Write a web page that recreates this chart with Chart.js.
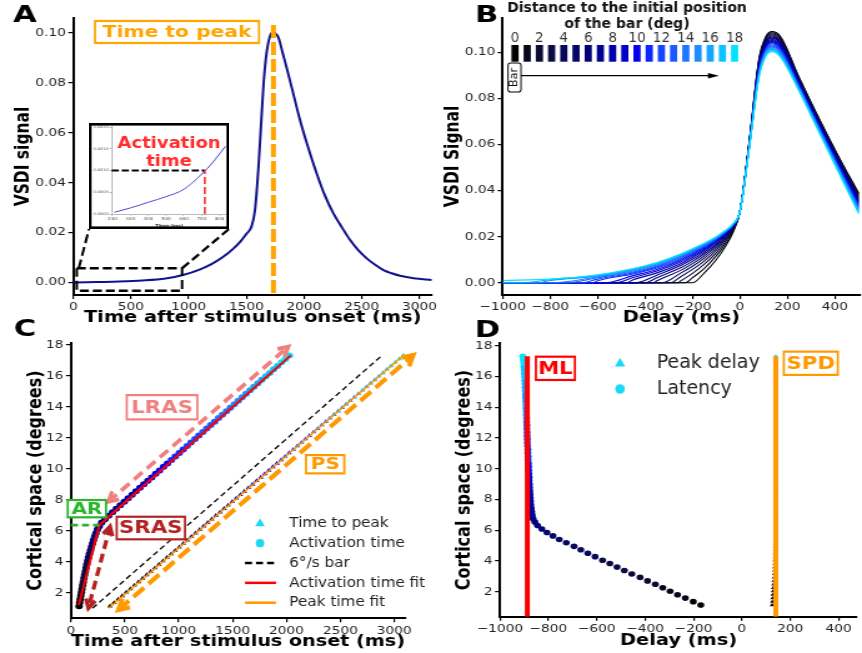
<!DOCTYPE html>
<html>
<head>
<meta charset="utf-8">
<title>VSDI propagation</title>
<script src="https://cdn.jsdelivr.net/npm/chart.js@4.4.1/dist/chart.umd.min.js"></script>
<style>
  html, body { margin: 0; padding: 0; background: #fff; }
  #fig { position: relative; width: 862px; height: 653px; overflow: hidden; }
  #fig canvas { position: absolute; }
</style>
</head>
<body>
<div id="fig">
  <canvas id="panelA" width="690" height="653" style="left:0;top:0;width:862px;height:653px"></canvas>
  <canvas id="panelB" width="690" height="653" style="left:0;top:0;width:862px;height:653px"></canvas>
  <canvas id="panelC" width="690" height="653" style="left:0;top:0;width:862px;height:653px"></canvas>
  <canvas id="panelD" width="690" height="653" style="left:0;top:0;width:862px;height:653px"></canvas>
  <canvas id="inset" width="112" height="106" style="left:89px;top:123px;width:140px;height:106px"></canvas>
</div>
<script>
// ---- A : VSDI signal of one site
const aTime = [0, 200, 400, 600, 800, 950, 1100, 1210, 1300, 1390, 1450, 1505, 1545, 1575, 1605, 1630, 1650, 1670, 1690, 1712,
  1735, 1760, 1780, 1815, 1850, 1900, 1966, 2030, 2110, 2180, 2255, 2330, 2400, 2470, 2544, 2620, 2689, 2760, 2833, 2950, 3108];
const aSignal = [0.0000, 0.0002, 0.0004, 0.0008, 0.0016, 0.0030, 0.0053, 0.0077, 0.0103, 0.0137, 0.0165, 0.0197, 0.0224, 0.0290,
  0.0460, 0.0650, 0.0800, 0.0900, 0.0960, 0.0995, 0.1004, 0.0995, 0.0980, 0.0920, 0.0860, 0.0770, 0.0650, 0.0550, 0.0437,
  0.0350, 0.0277, 0.0220, 0.0170, 0.0130, 0.0097, 0.0070, 0.0050, 0.0037, 0.0027, 0.0017, 0.0010];
const aTicksX = [0, 500, 1000, 1500, 2000, 2500, 3000];
const aTicksY = [0, 0.02, 0.04, 0.06, 0.08, 0.10];

// inset of A (zoom on the start of the response)
const insetTime = [210, 300, 400, 500, 600, 700, 760, 833];
const insetSignal = [0.00004, 0.00014, 0.00027, 0.00040, 0.00057, 0.00092, 0.00118, 0.00156];
const insetThreshold = 0.001;
const insetActTime = 717;
const insetTicksX = [200, 300, 400, 500, 600, 700, 800];
const insetTicksY = [0, 0.0005, 0.001, 0.0015, 0.002];

// ---- B : signal vs delay, one curve per distance to the bar start
const bDistance = [0, 1, 2, 3, 4, 5, 6, 7, 8, 9, 10, 11, 12, 13, 14, 15, 16, 17, 18];
const bOnset = [-200, -230, -262, -295, -330, -365, -400, -440, -480, -525, -570, -620, -670, -730, -790, -850, -920, -1000, -1100];
const bDelay = [-1000, -800, -600, -450, -350, -250, -200, -150, -100, -60, -30, 0, 40, 80, 110, 135, 170, 250, 330, 420, 500];
const bSignal = [
  [0, 0, 0, 0, 0, 0, 0, .0043, .0100, .0160, .0217, .031, .0620, .0970, .1070, .1090, .1070, .0890, .0720, .0540, .0390],
  [0, 0, 0, 0, 0, 0, .0022, .0063, .0117, .0171, .0224, .031, .0618, .0966, .1065, .1085, .1065, .0887, .0717, .0536, .0385],
  [0, 0, 0, 0, 0, .0008, .0041, .0081, .0130, .0181, .0229, .031, .0617, .0961, .1061, .1080, .1060, .0883, .0713, .0532, .0380],
  [0, 0, 0, 0, 0, .0026, .0058, .0095, .0142, .0189, .0233, .031, .0615, .0957, .1056, .1075, .1055, .0880, .0710, .0528, .0375],
  [0, 0, 0, 0, 0, .0042, .0072, .0107, .0151, .0195, .0237, .031, .0613, .0952, .1051, .1071, .1050, .0877, .0707, .0524, .0370],
  [0, 0, 0, 0, .0009, .0054, .0083, .0117, .0159, .0200, .0240, .031, .0612, .0948, .1046, .1066, .1045, .0873, .0703, .0521, .0365],
  [0, 0, 0, 0, .0022, .0065, .0093, .0126, .0165, .0205, .0242, .031, .0610, .0943, .1042, .1061, .1040, .0870, .0700, .0517, .0360],
  [0, 0, 0, 0, .0033, .0075, .0102, .0133, .0171, .0209, .0244, .031, .0608, .0939, .1037, .1056, .1035, .0867, .0697, .0513, .0355],
  [0, 0, 0, .0013, .0043, .0083, .0110, .0140, .0176, .0212, .0246, .031, .0607, .0934, .1032, .1051, .1030, .0863, .0693, .0509, .0350],
  [0, 0, 0, .0023, .0051, .0090, .0116, .0145, .0180, .0215, .0248, .031, .0605, .0930, .1028, .1047, .1025, .0860, .0690, .0505, .0345],
  [0, 0, 0, .0031, .0058, .0097, .0122, .0150, .0184, .0217, .0249, .031, .0603, .0926, .1023, .1042, .1020, .0857, .0687, .0501, .0340],
  [0, 0, .0009, .0038, .0064, .0102, .0127, .0154, .0187, .0219, .0250, .031, .0602, .0921, .1018, .1037, .1015, .0853, .0683, .0497, .0335],
  [0, 0, .0016, .0043, .0069, .0107, .0132, .0158, .0190, .0221, .0251, .031, .0600, .0917, .1013, .1032, .1010, .0850, .0680, .0493, .0330],
  [0, 0, .0022, .0047, .0073, .0111, .0135, .0161, .0192, .0223, .0252, .031, .0598, .0912, .1009, .1027, .1005, .0847, .0677, .0489, .0325],
  [0, 0, .0026, .0051, .0077, .0115, .0139, .0164, .0194, .0224, .0253, .031, .0597, .0908, .1004, .1022, .1000, .0843, .0673, .0486, .0320],
  [0, .0010, .0029, .0055, .0081, .0118, .0141, .0166, .0196, .0225, .0253, .031, .0595, .0903, .0999, .1018, .0995, .0840, .0670, .0482, .0315],
  [0, .0013, .0031, .0058, .0083, .0121, .0144, .0169, .0197, .0226, .0254, .031, .0593, .0899, .0994, .1013, .0990, .0837, .0667, .0478, .0310],
  [0, .0015, .0033, .0060, .0086, .0123, .0146, .0170, .0199, .0227, .0254, .031, .0592, .0894, .0990, .1008, .0985, .0833, .0663, .0474, .0305],
  [.0010, .0016, .0035, .0062, .0088, .0125, .0148, .0172, .0200, .0228, .0255, .031, .0590, .0890, .0985, .1003, .0980, .0830, .0660, .0470, .0300]
];
const bTicksX = [-1000, -800, -600, -400, -200, 0, 200, 400];
const bTicksY = [0, 0.02, 0.04, 0.06, 0.08, 0.10];

// ---- C & D : per cortical position
const cortDeg = [1.13, 1.35, 1.58, 1.80, 2.03, 2.25, 2.48, 2.70, 2.93, 3.15, 3.38, 3.60, 3.83, 4.05, 4.28, 4.50, 4.73, 4.95,
  5.18, 5.40, 5.63, 5.85, 6.08, 6.30, 6.53, 6.75, 6.98, 7.20, 7.43, 7.65, 7.88, 8.10, 8.33, 8.55, 8.78, 9.00, 9.23, 9.45,
  9.68, 9.90, 10.13, 10.35, 10.58, 10.80, 11.03, 11.25, 11.48, 11.70, 11.93, 12.15, 12.38, 12.60, 12.83, 13.05, 13.28,
  13.50, 13.73, 13.95, 14.18, 14.40, 14.63, 14.85, 15.08, 15.30, 15.53, 15.75, 15.98, 16.20, 16.43, 16.65, 16.88, 17.10, 17.33];
const activationTime = [75, 80, 85, 91, 97, 102, 108, 114, 120, 126, 133, 139, 146, 154, 162, 170, 180, 189, 200, 209,
  220, 231, 245, 262, 285, 315, 350, 385, 420, 457, 494, 530, 567, 603, 640, 676, 713, 749, 786, 822,
  859, 895, 932, 968, 1005, 1041, 1078, 1114, 1151, 1187, 1224, 1260, 1297, 1333, 1370, 1406, 1443, 1479, 1516, 1552,
  1589, 1625, 1662, 1698, 1735, 1771, 1808, 1844, 1881, 1917, 1954, 1990, 2027];
const peakTime = [362, 400, 438, 475, 513, 551, 589, 627, 664, 702, 740, 778, 816, 853, 891, 929, 967, 1005, 1042, 1080,
  1118, 1156, 1194, 1231, 1269, 1307, 1345, 1383, 1420, 1458, 1496, 1534, 1572, 1609, 1647, 1685, 1723, 1761, 1798, 1836,
  1874, 1912, 1950, 1987, 2025, 2063, 2101, 2139, 2176, 2214, 2252, 2290, 2328, 2365, 2403, 2441, 2479, 2517, 2554, 2592,
  2630, 2668, 2706, 2743, 2781, 2819, 2857, 2895, 2932, 2970, 3008, 3046, 3084];
const latency = [-170, -201, -234, -266, -297, -327, -358, -390, -421, -455, -486, -516, -546, -576, -607, -637, -666, -694,
  -726, -755, -781, -806, -827, -845, -856, -863, -867, -869, -871, -873, -874, -875, -876, -877, -878, -879, -880, -880,
  -881, -882, -882, -883, -884, -884, -885, -885, -886, -887, -887, -888, -888, -889, -889, -890, -890, -891, -891, -892,
  -892, -893, -894, -894, -895, -896, -896, -897, -898, -899, -900, -901, -902, -904, -906];
const peakDelay = [125, 126, 127, 128, 129, 130, 131, 132, 133, 134, 135, 135, 136, 136, 137, 137, 138, 138, 139, 139,
  139, 140, 140, 140, 140, 141, 140, 140, 139, 140, 140, 140, 141, 140, 140, 140, 139, 140, 140, 140,
  141, 140, 140, 140, 140, 139, 140, 140, 141, 140, 140, 140, 140, 139, 140, 140, 141, 140, 140, 140,
  140, 139, 140, 140, 141, 140, 140, 140, 140, 139, 140, 141, 140];
const barTime = [200, 2882];
const barDeg = [1.0, 17.3];
const actFitTime = [72, 263, 2040];
const actFitDeg = [1.2, 6.37, 17.33];
const peakFitTime = [350, 3090];
const peakFitDeg = [1.0, 17.35];
const latencyFitDelay = -887;
const peakFitDelay = 140;
const cTicksX = [0, 500, 1000, 1500, 2000, 2500, 3000];
const cTicksY = [2, 4, 6, 8, 10, 12, 14, 16, 18];
const dTicksX = [-1000, -800, -600, -400, -200, 0, 200, 400];
const dTicksY = [2, 4, 6, 8, 10, 12, 14, 16, 18];

// ---- looks
const bPalette = ['#000000', '#06061e', '#0a0a34', '#0b0b48', '#08085c', '#05056c', '#00007c', '#000092', '#0000aa', '#0000c8',
  '#0000ee', '#0a28ff', '#1446ff', '#1e5aff', '#1e78ff', '#1e8cff', '#14a5ff', '#0ac3ff', '#00e5ff'];
const S = 862 / 690;   // canvases are drawn narrow and stretched, like the original figure
const W = 690, H = 653;
const FONT = "'DejaVu Sans', 'Liberation Sans', sans-serif";
const CYAN = '#1ad9f5';
const insetBox = {left: 89, top: 123, width: 140, height: 106};

Chart.defaults.font.family = FONT;

function pts(xs, ys) { return xs.map((v, i) => ({x: v, y: ys[i]})); }
function degColors(n) { return Array.from({length: n}, (_, i) => bPalette[Math.round(i / (n - 1) * 18)]); }
const fmtMinus = v => String(v).replace('-', '\u2212');

// drawing helpers, in page pixels
function inPage(ctx, fn) { ctx.save(); ctx.scale(1 / S, 1); fn(); ctx.restore(); }
function X(scale, v) { return scale.getPixelForValue(v) * S; }

function strokePath(ctx, p, color, width, dash) {
  ctx.save();
  ctx.strokeStyle = color; ctx.lineWidth = width; ctx.setLineDash(dash || []);
  ctx.lineCap = 'butt'; ctx.lineJoin = 'miter';
  ctx.beginPath();
  p.forEach((q, i) => i ? ctx.lineTo(q[0], q[1]) : ctx.moveTo(q[0], q[1]));
  ctx.stroke();
  ctx.restore();
}

function text(ctx, str, x, y, size, color, opt) {
  opt = opt || {};
  ctx.save();
  ctx.translate(x, y);
  if (opt.rot) ctx.rotate(opt.rot);
  ctx.scale(opt.sx || 1, 1);
  ctx.font = (opt.bold ? 'bold ' : '') + size + 'px ' + FONT;
  ctx.fillStyle = color;
  ctx.textAlign = opt.align || 'center';
  ctx.textBaseline = 'middle';
  ctx.fillText(str, 0, 0);
  ctx.restore();
}

function labelBox(ctx, str, cx, cy, w, h, color, size, sx) {
  ctx.save();
  ctx.fillStyle = '#fff';
  ctx.fillRect(cx - w / 2, cy - h / 2, w, h);
  ctx.strokeStyle = color; ctx.lineWidth = 2.2;
  ctx.strokeRect(cx - w / 2, cy - h / 2, w, h);
  ctx.restore();
  text(ctx, str, cx, cy + 1, size, color, {bold: true, sx: sx});
}

function arrow2(ctx, x1, y1, x2, y2, color, width, dash, head) {
  const a = Math.atan2(y2 - y1, x2 - x1);
  strokePath(ctx, [[x1, y1], [x2, y2]], color, width, dash);
  [[x1, y1, a + Math.PI], [x2, y2, a]].forEach(([x, y, t]) => {
    strokePath(ctx, [[x - head * Math.cos(t - 0.5), y - head * Math.sin(t - 0.5)], [x, y],
      [x - head * Math.cos(t + 0.5), y - head * Math.sin(t + 0.5)]], color, width, []);
  });
}

function triangle(ctx, x, y, r, color) {
  ctx.save();
  ctx.fillStyle = color;
  ctx.beginPath();
  ctx.moveTo(x, y - r); ctx.lineTo(x + r * 0.95, y + r * 0.6); ctx.lineTo(x - r * 0.95, y + r * 0.6);
  ctx.closePath(); ctx.fill();
  ctx.restore();
}
function dot(ctx, x, y, r, color) {
  ctx.save(); ctx.fillStyle = color;
  ctx.beginPath(); ctx.arc(x, y, r, 0, Math.PI * 2); ctx.fill();
  ctx.restore();
}

function axis(o) {
  return {
    type: 'linear', min: o.min, max: o.max,
    afterBuildTicks: s => { s.ticks = o.ticks.map(v => ({value: v})); },
    afterFit: s => { if (o.horizontal) s.height = o.fit; else s.width = o.fit; },
    ticks: {autoSkip: false, maxRotation: 0, color: '#222', padding: 2, font: {family: FONT, size: 11}, callback: o.fmt},
    grid: {drawOnChartArea: false, drawTicks: true, tickLength: 4, color: '#000', lineWidth: 1.2},
    border: {display: true, color: '#000', width: 2},
    title: {display: true, text: o.title, color: '#000', padding: 0, font: {family: FONT, size: o.titleSize, weight: 'bold'}}
  };
}

// f: chart area in page px + centres of the axis titles
function panel(id, f, xs, ys, datasets, deco) {
  const lhX = xs.titleSize * 1.2, lhY = ys.titleSize * 1.2;
  const padLeft = f.yTitleX / S - lhY / 2;
  return new Chart(document.getElementById(id), {
    type: 'scatter',
    data: {datasets: datasets},
    options: {
      responsive: false, animation: false, devicePixelRatio: 1,
      layout: {padding: {left: padLeft, right: W - f.R / S, top: f.T, bottom: H - f.xTitleY - lhX / 2}},
      plugins: {legend: {display: false}, tooltip: {enabled: false}},
      scales: {
        x: axis(Object.assign({horizontal: true, fit: f.xTitleY + lhX / 2 - f.B}, xs)),
        y: axis(Object.assign({horizontal: false, fit: f.L / S - padLeft}, ys))
      }
    },
    plugins: [deco]
  });
}

// ---------------- panel A ----------------
const zoomBox = {x0: 30, x1: 943, y0: -0.0033, y1: 0.0057};
const decoA = {
  id: 'decoA',
  afterDatasetsDraw(chart) {
    const {ctx, scales: {x, y}, chartArea: ca} = chart;
    const peak = aTime[aSignal.indexOf(Math.max(...aSignal))];
    inPage(ctx, () => {
      const px = X(x, peak);
      strokePath(ctx, [[px, ca.top + 7], [px, ca.bottom]], '#ffa500', 5, [13, 4]);
      const l = X(x, zoomBox.x0), r = X(x, zoomBox.x1);
      const t = y.getPixelForValue(zoomBox.y1), b = y.getPixelForValue(zoomBox.y0);
      strokePath(ctx, [[l, t], [r, t], [r, b], [l, b], [l, t]], '#000', 2.5, [9, 4]);
      strokePath(ctx, [[l + 2, t], [insetBox.left, insetBox.top + insetBox.height]], '#000', 2.5, [9, 4]);
      strokePath(ctx, [[r, t], [insetBox.left + insetBox.width, insetBox.top + insetBox.height]], '#000', 2.5, [9, 4]);
      labelBox(ctx, 'Time to peak', X(x, 899), y.getPixelForValue(0.1004), 164, 22, '#ffa500', 16.5, 1.23);
      text(ctx, 'A', 25, 16, 23.5, '#000', {bold: true, sx: 1.3});
    });
  }
};
panel('panelA',
  {L: 73.3, T: 18, R: 432, B: 295, yTitleX: 24, xTitleY: 318.4},
  {min: 0, max: 3110, ticks: aTicksX, fmt: v => String(v), title: 'Time after stimulus onset (ms)', titleSize: 15.5},
  {min: -0.005, max: 0.106, ticks: aTicksY, fmt: v => v.toFixed(2), title: 'VSDI signal', titleSize: 15.5},
  [{data: pts(aTime, aSignal), showLine: true, borderColor: '#12128a', borderWidth: 2, pointRadius: 0, cubicInterpolationMode: 'monotone'}],
  decoA);

// inset
const insetDeco = {
  id: 'insetDeco',
  beforeDraw(chart) {
    const ctx = chart.ctx;
    ctx.save(); ctx.fillStyle = '#fff'; ctx.fillRect(0, 0, chart.width, chart.height); ctx.restore();
  },
  afterDraw(chart) {
    const {ctx, scales: {x, y}} = chart;
    inPage(ctx, () => {
      const yt = y.getPixelForValue(insetThreshold), xa = X(x, insetActTime);
      strokePath(ctx, [[X(x, x.min), yt], [xa, yt]], '#000', 2, [7, 3]);
      strokePath(ctx, [[xa, y.getPixelForValue(0)], [xa, yt]], '#ff2020', 2, [7, 3]);
      text(ctx, 'Activation', 80, 21, 15, '#ff2d2d', {bold: true, sx: 1.2});
      text(ctx, 'time', 80, 39, 15, '#ff2d2d', {bold: true, sx: 1.2});
      ctx.strokeStyle = '#000'; ctx.lineWidth = 2.6;
      ctx.strokeRect(1.3, 1.3, insetBox.width - 2.6, insetBox.height - 2.6);
    });
  }
};
new Chart(document.getElementById('inset'), {
  type: 'scatter',
  data: {datasets: [{data: pts(insetTime, insetSignal), showLine: true, borderColor: '#4b4bdc', borderWidth: 1,
    pointRadius: 0, cubicInterpolationMode: 'monotone'}]},
  options: {
    responsive: false, animation: false, devicePixelRatio: 1,
    layout: {padding: {left: 2, right: 1.8, top: 3.7, bottom: 1}},
    plugins: {legend: {display: false}, tooltip: {enabled: false}},
    scales: {
      x: {type: 'linear', min: 195, max: 840,
        afterBuildTicks: s => { s.ticks = insetTicksX.map(v => ({value: v})); },
        afterFit: s => { s.height = 14; },
        ticks: {autoSkip: false, maxRotation: 0, color: '#555', padding: 1, font: {size: 4}},
        grid: {drawOnChartArea: false, tickLength: 1.5, color: '#aaa'},
        border: {color: '#bbb', width: 1},
        title: {display: true, text: 'Time (ms)', color: '#333', padding: 0, font: {size: 4, weight: 'bold'}}},
      y: {type: 'linear', min: 0, max: 0.00201,
        afterBuildTicks: s => { s.ticks = insetTicksY.map(v => ({value: v})); },
        afterFit: s => { s.width = 16.2; },
        ticks: {autoSkip: false, color: '#555', padding: 1, font: {size: 3.5}, callback: v => v.toFixed(4)},
        grid: {drawOnChartArea: false, tickLength: 1.5, color: '#aaa'},
        border: {color: '#bbb', width: 1}}
    }
  },
  plugins: [insetDeco]
});

// ---------------- panel B ----------------
const bDatasets = bDistance.map((d, k) => {
  const data = [];
  if (bOnset[k] > bDelay[0]) data.push({x: bDelay[0], y: 0}, {x: bOnset[k], y: 0});
  bDelay.forEach((t, j) => { if (t > bOnset[k]) data.push({x: t, y: bSignal[k][j]}); });
  return {data: data, showLine: true, borderColor: bPalette[k], borderWidth: 1.1, pointRadius: 0,
    cubicInterpolationMode: 'monotone', order: 18 - k};
});
const decoB = {
  id: 'decoB',
  afterDraw(chart) {
    const ctx = chart.ctx;
    inPage(ctx, () => {
      text(ctx, 'Distance to the initial position', 627, 8, 14, '#111', {bold: true});
      text(ctx, 'of the bar (deg)', 627, 24, 14, '#111', {bold: true});
      bDistance.forEach((d, k) => {
        const cx = 515 + k * 12.2;
        ctx.fillStyle = bPalette[k];
        ctx.fillRect(cx - 3.6, 45, 7.2, 16.7);
        if (d % 2 === 0) text(ctx, String(d), cx, 38.5, 13.5, '#333');
      });
      ctx.save();
      ctx.fillStyle = '#fff'; ctx.strokeStyle = '#000'; ctx.lineWidth = 1.2;
      ctx.beginPath(); ctx.roundRect(508, 63, 13, 29, 2.5); ctx.fill(); ctx.stroke();
      ctx.restore();
      text(ctx, 'Bar', 514.5, 77.5, 11.5, '#111', {rot: -Math.PI / 2});
      strokePath(ctx, [[521, 75.7], [711, 75.7]], '#000', 1.3);
      ctx.save(); ctx.fillStyle = '#000';
      ctx.beginPath(); ctx.moveTo(719, 75.7); ctx.lineTo(708, 73); ctx.lineTo(708, 78.4); ctx.closePath(); ctx.fill();
      ctx.restore();
      text(ctx, 'B', 486.7, 16, 23.5, '#000', {bold: true, sx: 1.3});
    });
  }
};
panel('panelB',
  {L: 502.7, T: 18, R: 860, B: 295, yTitleX: 453, xTitleY: 318.4},
  {min: -1000, max: 506, ticks: bTicksX, fmt: fmtMinus, title: 'Delay (ms)', titleSize: 15.5},
  {min: -0.0053, max: 0.1149, ticks: bTicksY, fmt: v => v.toFixed(2), title: 'VSDI Signal', titleSize: 15.5},
  bDatasets, decoB);

// ---------------- panel C ----------------
const degCol = degColors(cortDeg.length);
const cLegend = [
  {label: 'Time to peak', kind: 'tri'},
  {label: 'Activation time', kind: 'dot'},
  {label: '6°/s bar', kind: 'dash', color: '#000'},
  {label: 'Activation time fit', kind: 'line', color: '#ff0000'},
  {label: 'Peak time fit', kind: 'line', color: '#ff9900'}
];
const decoC = {
  id: 'decoC',
  afterDatasetsDraw(chart) {
    const {ctx, scales: {x, y}} = chart;
    const P = (t, d) => [X(x, t), y.getPixelForValue(d)];
    inPage(ctx, () => {
      strokePath(ctx, [P(0, actFitDeg[1]), P(actFitTime[1], actFitDeg[1])], '#2ab52a', 2.6, [7, 4]);
      arrow2(ctx, ...P(346, 7.88), ...P(2017, 17.89), '#f08080', 4, [11, 6], 11);
      arrow2(ctx, ...P(362, 6.27), ...P(161, 1.0), '#b22222', 4, [9, 5], 10);
      arrow2(ctx, ...P(439, 0.89), ...P(3177, 17.35), '#ff9900', 4.5, [14, 6], 12);
      labelBox(ctx, 'LRAS', ...P(845, 13.98), 70.6, 24.3, '#f08080', 17, 1.25);
      labelBox(ctx, 'AR', ...P(147, 7.43), 38.3, 17.3, '#2ab52a', 16, 1.25);
      labelBox(ctx, 'SRAS', ...P(741, 6.18), 68.3, 22.6, '#b22222', 17, 1.25);
      labelBox(ctx, 'PS', ...P(2359, 10.3), 38.3, 18.3, '#ff9900', 16, 1.25);
      cLegend.forEach((it, i) => {
        const yy = 523.3 + i * 19.85;
        if (it.kind === 'tri') triangle(ctx, 260, yy, 5, CYAN);
        else if (it.kind === 'dot') dot(ctx, 260, yy, 4.2, CYAN);
        else strokePath(ctx, [[245, yy], [276, yy]], it.color, 2.5, it.kind === 'dash' ? [7, 4] : []);
        text(ctx, it.label, 289.3, yy, 14.5, '#222', {align: 'left', sx: 1.05});
      });
      text(ctx, 'C', 25, 330, 23.5, '#000', {bold: true, sx: 1.3});
    });
  }
};
panel('panelC',
  {L: 71, T: 343, R: 405, B: 618.3, yTitleX: 36, xTitleY: 641.5},
  {min: 0, max: 3100, ticks: cTicksX, fmt: v => String(v), title: 'Time after stimulus onset (ms)', titleSize: 15.5},
  {min: 0.35, max: 18.13, ticks: cTicksY, fmt: v => String(v), title: 'Cortical space (degrees)', titleSize: 16},
  [
    {data: pts(peakFitTime, peakFitDeg), showLine: true, borderColor: '#ff9900', borderWidth: 1.5, pointRadius: 0, order: 0},
    {data: pts(actFitTime, actFitDeg), showLine: true, borderColor: '#ff0000', borderWidth: 2, pointRadius: 0, order: 0},
    {data: pts(peakTime, cortDeg), pointStyle: 'triangle', pointRadius: 2.6, pointBackgroundColor: degCol,
      pointBorderColor: degCol, pointBorderWidth: 0, order: 1},
    {data: pts(activationTime, cortDeg), pointStyle: 'circle', pointRadius: 3, pointBackgroundColor: degCol,
      pointBorderColor: degCol, pointBorderWidth: 0, order: 1},
    {data: pts(barTime, barDeg), showLine: true, borderColor: '#000', borderWidth: 1.3, borderDash: [5, 3], pointRadius: 0, order: 2}
  ], decoC);

// ---------------- panel D ----------------
const dRangeY = [0.37, 18.17];
const topDeg = cortDeg[cortDeg.length - 1];
const decoD = {
  id: 'decoD',
  afterDatasetsDraw(chart) {
    const {ctx, scales: {x, y}} = chart;
    const P = (t, d) => [X(x, t), y.getPixelForValue(d)];
    inPage(ctx, () => {
      labelBox(ctx, 'ML', ...P(-771, 16.54), 39, 23.3, '#ff0000', 17, 1.25);
      labelBox(ctx, 'SPD', ...P(285, 16.87), 54, 23.3, '#ff9900', 17, 1.25);
      triangle(ctx, 620, 363.3, 5.5, CYAN);
      dot(ctx, 620, 389, 4.8, CYAN);
      text(ctx, 'Peak delay', 656.7, 363.3, 19, '#222', {align: 'left'});
      text(ctx, 'Latency', 656.7, 389, 19, '#222', {align: 'left'});
      text(ctx, 'D', 487.5, 331, 23.5, '#000', {bold: true, sx: 1.3});
    });
  }
};
panel('panelD',
  {L: 500, T: 343.3, R: 861.7, B: 616.7, yTitleX: 464.7, xTitleY: 640.5},
  {min: -1000, max: 476, ticks: dTicksX, fmt: fmtMinus, title: 'Delay (ms)', titleSize: 15.5},
  {min: dRangeY[0], max: dRangeY[1], ticks: dTicksY, fmt: v => String(v), title: 'Cortical space (degrees)', titleSize: 16},
  [
    {data: pts([latencyFitDelay, latencyFitDelay], [dRangeY[0], topDeg]), showLine: true, borderColor: '#ff0000', borderWidth: 4, pointRadius: 0, order: 0},
    {data: pts([peakFitDelay, peakFitDelay], [dRangeY[0], topDeg]), showLine: true, borderColor: '#ff9900', borderWidth: 4, pointRadius: 0, order: 0},
    {data: pts(peakDelay, cortDeg), pointStyle: 'triangle', pointRadius: 2.2, pointBackgroundColor: degCol,
      pointBorderColor: degCol, pointBorderWidth: 0, order: 1},
    {data: pts(latency, cortDeg), pointStyle: 'circle', pointRadius: 2.8, pointBackgroundColor: degCol,
      pointBorderColor: degCol, pointBorderWidth: 0, order: 1}
  ], decoD);
</script>
</body>
</html>
